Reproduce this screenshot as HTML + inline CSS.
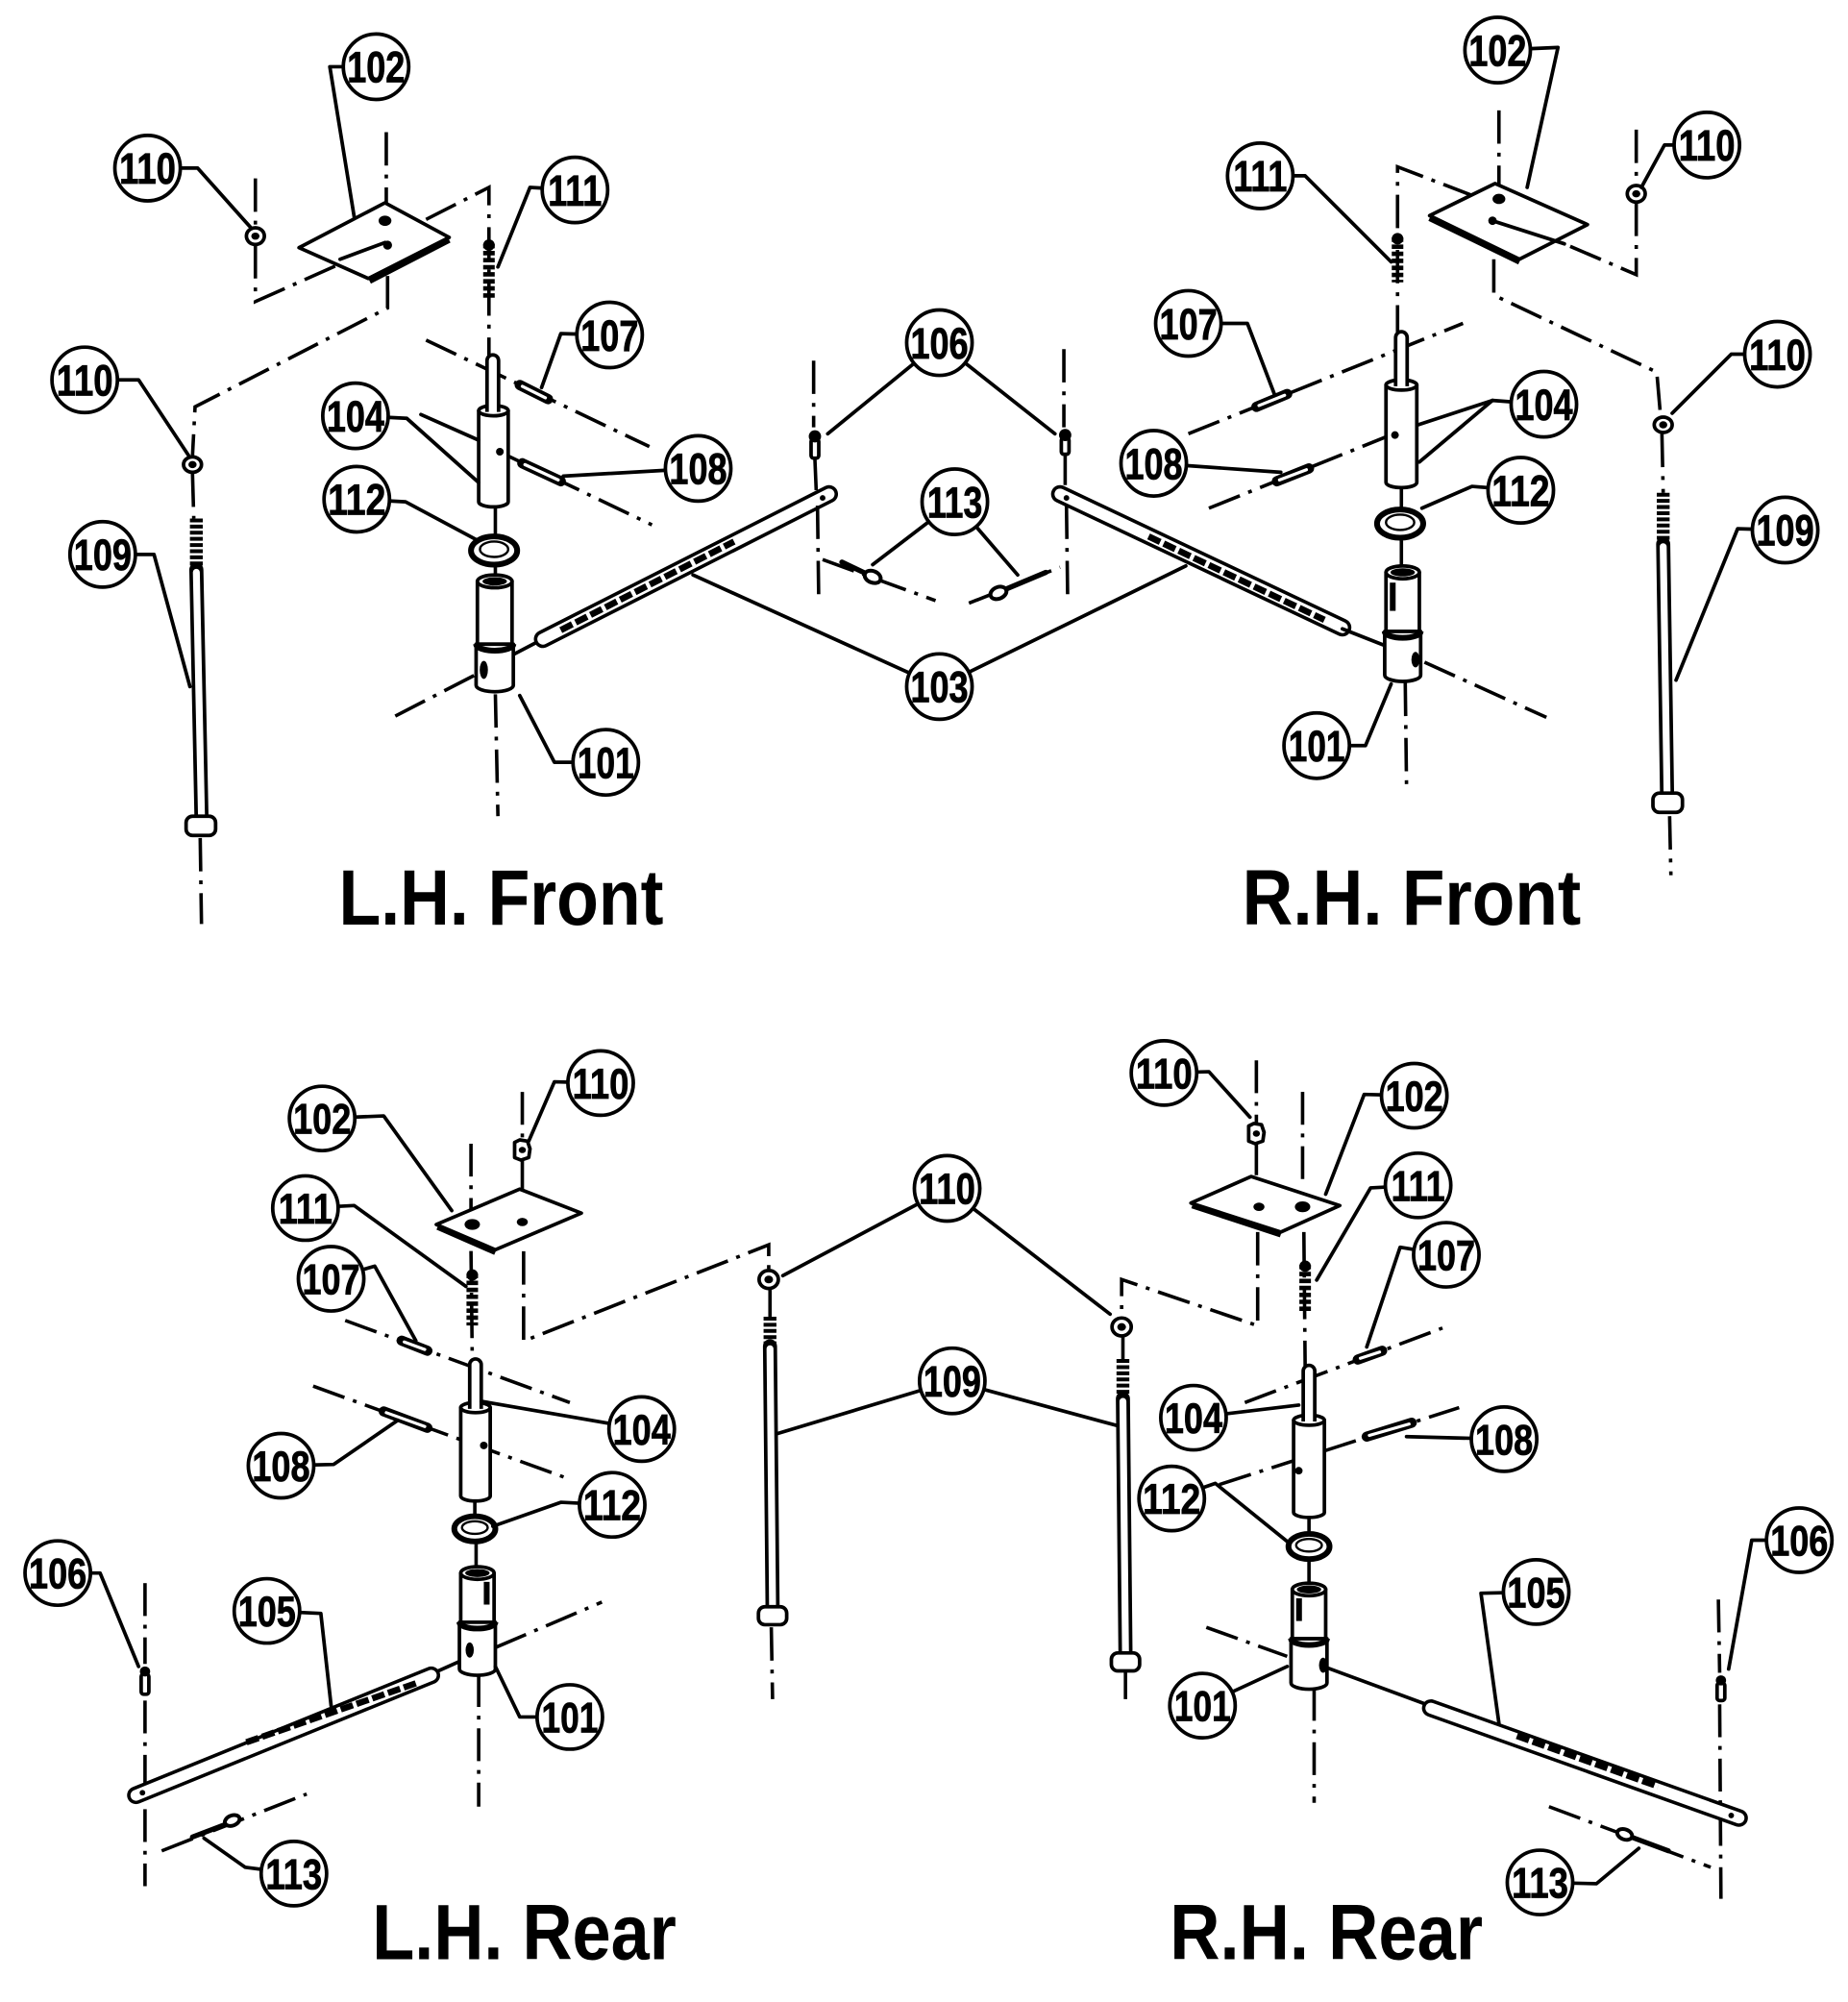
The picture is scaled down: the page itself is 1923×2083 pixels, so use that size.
<!DOCTYPE html>
<html><head><meta charset="utf-8"><title>Parts diagram</title>
<style>
html,body{margin:0;padding:0;background:#fff;overflow:hidden}
svg{display:block}
.l{fill:none;stroke:#000;stroke-width:2.8;stroke-linecap:round;stroke-linejoin:round}
.d{fill:none;stroke:#000;stroke-width:2.7;stroke-dasharray:26 7 3 7}
.p{fill:#fff;stroke:#000;stroke-width:2.8;stroke-linejoin:round}
.k{fill:#000}
.c{fill:#fff;stroke:#000;stroke-width:2.8}
.n{font-family:"Liberation Sans",Arial,sans-serif;font-weight:bold;font-size:34px;text-anchor:middle;stroke:#000;stroke-width:0.6}
.h{font-family:"Liberation Sans",Arial,sans-serif;font-weight:bold;font-size:61px}
.rb{stroke:#000;stroke-linecap:round}
.rw{stroke:#fff;stroke-linecap:round}
.sp{stroke:#000;stroke-width:9;stroke-dasharray:3.5 2}
.th{stroke:#000;stroke-width:10;stroke-dasharray:3 1.8}
.kn{stroke:#000;stroke-width:5;stroke-dasharray:10 3}
.pin{stroke:#000;stroke-width:8;stroke-linecap:round}
.pinw{stroke:#fff;stroke-width:2.4;stroke-linecap:round}
.ring{fill:none;stroke:#000;stroke-width:4.5}
.ring2{fill:none;stroke:#000;stroke-width:1.8}
.cot{stroke:#000;stroke-width:4;stroke-linecap:round}
</style></head><body>
<svg xmlns="http://www.w3.org/2000/svg" width="1923" height="2083" viewBox="0 0 1440 1560" preserveAspectRatio="none">
<rect width="1440" height="1560" fill="#fff"/>

<!-- ================= TOP LEFT ================= -->
<g class="d">
<path d="M301,103 L301,158"/>
<path d="M302,215 L302,240 L152,317 L150,355"/>
<path d="M199,139 L199,177"/>
<path d="M199,191 L199,235 L262,207"/>
<path d="M332,171 L381,146 L381,277"/>
<path d="M150,369 L151,404"/>
<path d="M156,653 L157,720"/>
<path d="M332,265 L506,348"/>
<path d="M389,352 L508,409"/>
<path d="M386,396 L386,417"/>
<path d="M386,441 L386,452"/>
<path d="M386,541 L388,636"/>
<path d="M308,558 L372,525"/>
</g>
<polygon class="p" points="233,193 300,158 350,185 287,217"/>
<line x1="288" y1="219" x2="350" y2="187" stroke="#000" stroke-width="4.5"/>
<ellipse class="k" cx="300" cy="172" rx="5" ry="4"/>
<ellipse class="k" cx="302" cy="191" rx="3.5" ry="3.5"/>
<path class="l" d="M265,202 L300,189" stroke-width="2.2"/>
<ellipse class="p" cx="199" cy="184" rx="7" ry="6.5" stroke-width="3.5"/><ellipse class="k" cx="199" cy="184" rx="3.2" ry="2.8"/>
<ellipse class="p" cx="150" cy="362" rx="7" ry="6" stroke-width="3.5"/><ellipse class="k" cx="150" cy="362" rx="3.2" ry="2.8"/>
<line class="sp" x1="381" y1="190" x2="381" y2="232"/><circle class="k" cx="381" cy="191" r="4.5"/>
<line class="th" x1="153" y1="404" x2="153" y2="444"/>
<line class="rb" x1="153" y1="444" x2="157" y2="637" stroke-width="11" stroke-linecap="butt"/>
<line class="rw" x1="153" y1="446" x2="157" y2="636" stroke-width="5.4" stroke-linecap="butt"/>
<rect class="p" x="145" y="636" width="23" height="15" rx="5" stroke-width="3"/>
<path class="p" d="M373,320 L373,391 A11.5,4 0 0 0 396,391 L396,320 Z"/>
<ellipse class="p" cx="384.5" cy="320" rx="11.5" ry="4"/>
<path class="p" d="M379.5,321 L379.5,281 A4.5,4.5 0 0 1 388.5,281 L388.5,321"/>
<circle class="k" cx="389.5" cy="352" r="3"/>
<line class="pin" x1="405" y1="300" x2="427" y2="311"/><line class="pinw" x1="407" y1="301" x2="425" y2="310"/>
<line class="pin" x1="407" y1="361" x2="437" y2="375"/><line class="pinw" x1="409" y1="362" x2="435" y2="374"/>
<ellipse class="ring" cx="385" cy="429" rx="18" ry="11"/><ellipse class="ring2" cx="385" cy="428" rx="11" ry="6"/>
<line class="l" x1="400" y1="510" x2="423" y2="498"/>
<line class="rb" x1="423" y1="498" x2="646" y2="385" stroke-width="14"/>
<line class="rw" x1="423" y1="498" x2="646" y2="385" stroke-width="8.6"/>
<line class="kn" x1="437" y1="491" x2="572" y2="422"/>
<circle class="k" cx="641" cy="388" r="2.2"/>
<rect class="p" x="372" y="453" width="27" height="49"/>
<ellipse class="p" cx="385.5" cy="453" rx="13.5" ry="5"/>
<ellipse class="k" cx="385.5" cy="453" rx="9.5" ry="3.2"/>
<path class="p" d="M371,502 L371,534 A14.5,5 0 0 0 400,534 L400,502 Z"/>
<path d="M371,502 A14.5,5 0 0 0 400,502" stroke="#000" stroke-width="4.5" fill="none"/>
<ellipse class="k" cx="377" cy="522" rx="3.2" ry="7"/>
<g class="l">
<path d="M293,52 L257,52 L276,169"/>
<path d="M115,131 L154,131 L196,178"/>
<path d="M448,148 L413,146 L388,208"/>
<path d="M475,261 L437,260 L422,302"/>
<path d="M66,296 L108,296 L147,355"/>
<path d="M277,324 L317,326 L373,376"/>
<path d="M328,323 L373,343"/>
<path d="M544,365 L439,371"/>
<path d="M278,389 L316,391 L372,421"/>
<path d="M80,432 L120,432 L148,535"/>
<path d="M472,594 L432,594 L405,542"/>
</g>

<!-- ================= CENTER TOP ================= -->
<g class="d">
<path d="M634,281 L634,333"/>
<path d="M635,358 L636,382"/>
<path d="M637,394 L638,470"/>
<path d="M829,272 L829,333"/>
<path d="M830,354 L830,378"/>
<path d="M831,394 L832,470"/>
<path d="M641,436 L729,468"/>
<path d="M755,470 L826,442"/>
</g>
<rect class="p" x="632" y="342" width="6" height="15" rx="2"/><circle class="k" cx="635" cy="340" r="4.8"/>
<rect class="p" x="827" y="341" width="6" height="13" rx="2"/><circle class="k" cx="830" cy="339" r="4.8"/>
<line class="cot" x1="656" y1="438" x2="675" y2="447"/>
<ellipse cx="680" cy="449.5" rx="6.5" ry="4.5" transform="rotate(22 680 449.5)" fill="#fff" stroke="#000" stroke-width="3"/>
<line class="cot" x1="784" y1="459" x2="815" y2="446"/>
<ellipse cx="778" cy="462" rx="6.5" ry="4.5" transform="rotate(-22 778 462)" fill="#fff" stroke="#000" stroke-width="3"/>
<g class="l">
<path d="M732,267 L645,338"/>
<path d="M732,267 L822,338"/>
<path d="M744,391 L680,440"/>
<path d="M744,391 L793,448"/>
<path d="M732,535 L540,448"/>
<path d="M732,535 L924,441"/>
</g>

<!-- ================= TOP RIGHT ================= -->
<g class="d">
<path d="M1168,86 L1168,145"/>
<path d="M1275,101 L1275,145"/>
<path d="M1275,158 L1275,214 L1219,190"/>
<path d="M1149,153 L1089,130 L1089,259"/>
<path d="M1164,202 L1164,230 L1291,290 L1294,325"/>
<path d="M1295,338 L1296,384"/>
<path d="M1301,636 L1302,682"/>
<path d="M926,338 L1140,252"/>
<path d="M942,396 L1086,338"/>
<path d="M1092,380 L1092,396"/>
<path d="M1092,421 L1092,441"/>
<path d="M1095,532 L1096,612"/>
<path d="M1110,516 L1205,559"/>
</g>
<polygon class="p" points="1114,168 1165,143 1237,175 1184,202"/>
<line x1="1114" y1="170" x2="1184" y2="204" stroke="#000" stroke-width="4.5"/>
<ellipse class="k" cx="1168" cy="155" rx="5" ry="4"/>
<ellipse class="k" cx="1163" cy="172" rx="3.3" ry="3.3"/>
<path class="l" d="M1163,172 L1219,190" stroke-width="2.2"/>
<ellipse class="p" cx="1275" cy="151" rx="7" ry="6.5" stroke-width="3.5"/><ellipse class="k" cx="1275" cy="151" rx="3.2" ry="2.8"/>
<ellipse class="p" cx="1296" cy="331" rx="7" ry="6" stroke-width="3.5"/><ellipse class="k" cx="1296" cy="331" rx="3.2" ry="2.8"/>
<line class="sp" x1="1089" y1="185" x2="1089" y2="220"/><circle class="k" cx="1089" cy="186" r="4.5"/>
<line class="th" x1="1296" y1="384" x2="1296" y2="424"/>
<line class="rb" x1="1296" y1="424" x2="1299" y2="619" stroke-width="11" stroke-linecap="butt"/>
<line class="rw" x1="1296" y1="426" x2="1299" y2="618" stroke-width="5.4" stroke-linecap="butt"/>
<rect class="p" x="1288" y="618" width="23" height="15" rx="5" stroke-width="3"/>
<path class="p" d="M1080,300 L1080,376 A12,4 0 0 0 1104,376 L1104,300 Z"/>
<ellipse class="p" cx="1092" cy="300" rx="12" ry="4"/>
<path class="p" d="M1087.5,301 L1087.5,263 A4.5,4.5 0 0 1 1096.5,263 L1096.5,301"/>
<circle class="k" cx="1087" cy="339" r="3"/>
<line class="pin" x1="979" y1="317" x2="1003" y2="307"/><line class="pinw" x1="981" y1="316" x2="1001" y2="308"/>
<line class="pin" x1="995" y1="375" x2="1020" y2="365"/><line class="pinw" x1="997" y1="374" x2="1018" y2="366"/>
<ellipse class="ring" cx="1091" cy="408" rx="18" ry="11"/><ellipse class="ring2" cx="1091" cy="407" rx="11" ry="6"/>
<line class="rb" x1="826" y1="385" x2="1046" y2="489" stroke-width="14"/>
<line class="rw" x1="826" y1="385" x2="1046" y2="489" stroke-width="8.6"/>
<line class="kn" x1="895" y1="418" x2="1032" y2="483"/>
<circle class="k" cx="831" cy="388" r="2.2"/>
<line class="l" x1="1046" y1="490" x2="1079" y2="503"/>
<rect class="p" x="1080" y="446" width="26" height="46"/>
<ellipse class="p" cx="1093" cy="446" rx="13" ry="5"/>
<ellipse class="k" cx="1093" cy="446" rx="9.5" ry="3.2"/>
<rect class="k" x="1083" y="454" width="4.5" height="22"/>
<path class="p" d="M1079,492 L1079,526 A14,5 0 0 0 1107,526 L1107,492 Z"/>
<path d="M1079,492 A14,5 0 0 0 1107,492" stroke="#000" stroke-width="4.5" fill="none"/>
<ellipse class="k" cx="1103" cy="514" rx="3.2" ry="6"/>
<g class="l">
<path d="M1167,39 L1214,37 L1190,146"/>
<path d="M1330,113 L1297,113 L1279,146"/>
<path d="M982,137 L1017,137 L1084,204"/>
<path d="M926,252 L972,252 L993,307"/>
<path d="M1385,276 L1349,276 L1303,322"/>
<path d="M1203,315 L1163,312 L1105,331"/>
<path d="M1163,312 L1106,360"/>
<path d="M899,361 L998,368"/>
<path d="M1185,382 L1147,379 L1108,396"/>
<path d="M1391,413 L1354,412 L1306,530"/>
<path d="M1026,581 L1064,581 L1084,533"/>
</g>

<!-- ================= CENTER BOTTOM ================= -->
<g class="d">
<path d="M408,975 L408,1045 L599,970 L599,990"/>
<path d="M980,960 L980,1033 L874,997 L874,1027"/>
<path d="M600,1004 L600,1026"/>
<path d="M875,1041 L875,1059"/>
<path d="M601,1268 L602,1324"/>
<path d="M877,1303 L877,1324"/>
</g>
<ellipse class="p" cx="599" cy="997" rx="7.5" ry="7" stroke-width="3.5"/><ellipse class="k" cx="599" cy="997" rx="3.4" ry="3"/>
<ellipse class="p" cx="874" cy="1034" rx="7.5" ry="7" stroke-width="3.5"/><ellipse class="k" cx="874" cy="1034" rx="3.4" ry="3"/>
<line class="th" x1="600" y1="1026" x2="600" y2="1049"/>
<line class="rb" x1="600" y1="1049" x2="602" y2="1253" stroke-width="11" stroke-linecap="butt"/>
<line class="rw" x1="600" y1="1051" x2="602" y2="1252" stroke-width="5.4" stroke-linecap="butt"/>
<rect class="p" x="591" y="1252" width="22" height="14" rx="5" stroke-width="3"/>
<line class="th" x1="875" y1="1059" x2="875" y2="1090"/>
<line class="rb" x1="875" y1="1090" x2="877" y2="1289" stroke-width="11" stroke-linecap="butt"/>
<line class="rw" x1="875" y1="1092" x2="877" y2="1288" stroke-width="5.4" stroke-linecap="butt"/>
<rect class="p" x="866" y="1288" width="22" height="14" rx="5" stroke-width="3"/>
<g class="l">
<path d="M738,926 L610,994"/>
<path d="M738,926 L865,1024"/>
<path d="M742,1076 L606,1117"/>
<path d="M742,1076 L871,1111"/>
</g>
<g>
<circle class="c" cx="738" cy="926" r="25.5"/><text class="n" x="738" y="938.2" textLength="44" lengthAdjust="spacingAndGlyphs">110</text>
<circle class="c" cx="742" cy="1076" r="25.5"/><text class="n" x="742" y="1088.2" textLength="45" lengthAdjust="spacingAndGlyphs">109</text>
</g>

<!-- ================= BOTTOM PANELS ================= -->
<g transform="matrix(1 0 0 0.984 0 12.46)">
<g class="d">
<path d="M367,893 L367,946"/>
<path d="M367,978 L368,1064"/>
<path d="M407,852 L407,890"/>
<path d="M407,906 L407,932"/>
<path d="M269,1033 L444,1098"/>
<path d="M244,1085 L442,1158"/>
<path d="M370,1175 L370,1189"/>
<path d="M371,1208 L371,1233"/>
<path d="M373,1313 L373,1418"/>
<path d="M386,1292 L469,1256"/>
<path d="M113,1241 L113,1305"/>
<path d="M113,1334 L113,1481"/>
<path d="M126,1453 L239,1408"/>
</g>
<polygon class="p" points="340,957 405,929 453,948 386,977"/>
<line x1="341" y1="959" x2="386" y2="979" stroke="#000" stroke-width="4.5"/>
<ellipse class="k" cx="368" cy="957" rx="6" ry="4.3"/>
<ellipse class="k" cx="407" cy="955" rx="4.3" ry="3.3"/>
<path class="p" d="M401,892 L405,890 L411,891 L413,897 L412,904 L406,906 L401,904 Z" stroke-width="3.4"/><ellipse class="k" cx="407" cy="898" rx="2.8" ry="2.5"/>
<line class="sp" x1="368" y1="996" x2="368" y2="1037"/><circle class="k" cx="368" cy="997" r="4.5"/>
<path class="p" d="M359,1102 L359,1172 A11.5,4 0 0 0 382,1172 L382,1102 Z"/>
<ellipse class="p" cx="370.5" cy="1102" rx="11.5" ry="4"/>
<path class="p" d="M366,1103 L366,1068 A4.5,4.5 0 0 1 375,1068 L375,1103"/>
<circle class="k" cx="377" cy="1132" r="3"/>
<line class="pin" x1="313" y1="1049" x2="333" y2="1057"/><line class="pinw" x1="315" y1="1050" x2="331" y2="1056"/>
<line class="pin" x1="299" y1="1105" x2="333" y2="1118"/><line class="pinw" x1="301" y1="1106" x2="331" y2="1117"/>
<ellipse class="ring" cx="370" cy="1198" rx="16" ry="10"/><ellipse class="ring2" cx="370" cy="1197" rx="10" ry="5"/>
<line class="l" x1="358" y1="1303" x2="336" y2="1313"/>
<line class="rb" x1="336" y1="1314" x2="106" y2="1409" stroke-width="14"/>
<line class="rw" x1="336" y1="1314" x2="106" y2="1409" stroke-width="8.6"/>
<line class="kn" x1="192" y1="1367" x2="325" y2="1320"/>
<circle class="k" cx="111" cy="1407" r="2.2"/>
<rect class="p" x="359" y="1233" width="26" height="39"/>
<ellipse class="p" cx="372" cy="1233" rx="13" ry="5"/>
<ellipse class="k" cx="372" cy="1233" rx="9.5" ry="3.2"/>
<rect class="k" x="377" y="1240" width="4.5" height="18"/>
<path class="p" d="M358,1272 L358,1309 A14,5 0 0 0 386,1309 L386,1272 Z"/>
<path d="M358,1272 A14,5 0 0 0 386,1272" stroke="#000" stroke-width="4.5" fill="none"/>
<ellipse class="k" cx="366" cy="1294" rx="3.2" ry="6"/>
<rect class="p" x="110" y="1313" width="6" height="16" rx="2"/><circle class="k" cx="113" cy="1311" r="4"/>
<line class="cot" x1="150" y1="1442" x2="176" y2="1432"/>
<ellipse cx="181" cy="1429" rx="6" ry="4" transform="rotate(-22 181 1429)" fill="#fff" stroke="#000" stroke-width="3"/>
<g class="l">
<path d="M251,873 L299,871 L352,946"/>
<path d="M468,845 L432,844 L412,891"/>
<path d="M238,944 L276,942 L363,1006"/>
<path d="M258,1000 L292,990 L324,1049"/>
<path d="M500,1119 L375,1097"/>
<path d="M219,1148 L260,1147 L310,1112"/>
<path d="M477,1179 L437,1177 L384,1196"/>
<path d="M45,1233 L78,1233 L108,1307"/>
<path d="M208,1263 L250,1265 L258,1338"/>
<path d="M444,1347 L405,1347 L386,1307"/>
<path d="M229,1471 L191,1466 L159,1443"/>
</g>

<g class="d">
<path d="M979,827 L979,878"/>
<path d="M979,892 L979,935"/>
<path d="M1015,852 L1015,925"/>
<path d="M1016,963 L1017,1069"/>
<path d="M970,1098 L1124,1039"/>
<path d="M950,1163 L1137,1102"/>
<path d="M1020,1188 L1020,1200"/>
<path d="M1020,1223 L1020,1246"/>
<path d="M1024,1324 L1024,1415"/>
<path d="M940,1276 L1003,1299"/>
<path d="M1339,1254 L1340,1312"/>
<path d="M1340,1337 L1341,1491"/>
<path d="M1207,1418 L1333,1466"/>
</g>
<polygon class="p" points="928,940 975,919 1044,942 998,963"/>
<line x1="929" y1="942" x2="998" y2="965" stroke="#000" stroke-width="4.5"/>
<ellipse class="k" cx="981" cy="943" rx="4.3" ry="3.3"/>
<ellipse class="k" cx="1015" cy="943" rx="6" ry="4.3"/>
<path class="p" d="M973,879 L977,877 L983,878 L985,884 L984,891 L978,893 L973,891 Z" stroke-width="3.4"/><ellipse class="k" cx="979" cy="885" rx="2.8" ry="2.5"/>
<line class="sp" x1="1017" y1="989" x2="1017" y2="1026"/><circle class="k" cx="1017" cy="990" r="4.5"/>
<path class="p" d="M1008,1112 L1008,1185 A12,4 0 0 0 1032,1185 L1032,1112 Z"/>
<ellipse class="p" cx="1020" cy="1112" rx="12" ry="4"/>
<path class="p" d="M1015.5,1113 L1015.5,1073 A4.5,4.5 0 0 1 1024.5,1073 L1024.5,1113"/>
<circle class="k" cx="1012" cy="1152" r="3"/>
<line class="pin" x1="1058" y1="1064" x2="1077" y2="1057"/><line class="pinw" x1="1060" y1="1063" x2="1075" y2="1058"/>
<line class="pin" x1="1065" y1="1125" x2="1100" y2="1114"/><line class="pinw" x1="1067" y1="1124" x2="1098" y2="1115"/>
<ellipse class="ring" cx="1020" cy="1212" rx="16" ry="10"/><ellipse class="ring2" cx="1020" cy="1211" rx="10" ry="5"/>
<line class="l" x1="1034" y1="1308" x2="1114" y2="1338"/>
<line class="rb" x1="1115" y1="1340" x2="1355" y2="1427" stroke-width="14"/>
<line class="rw" x1="1115" y1="1340" x2="1355" y2="1427" stroke-width="8.6"/>
<line class="kn" x1="1182" y1="1362" x2="1292" y2="1402"/>
<circle class="k" cx="1349" cy="1425" r="2.2"/>
<rect class="p" x="1007" y="1246" width="26" height="39"/>
<ellipse class="p" cx="1020" cy="1246" rx="13" ry="5"/>
<ellipse class="k" cx="1020" cy="1246" rx="9.5" ry="3.2"/>
<rect class="k" x="1010" y="1253" width="4.5" height="18"/>
<path class="p" d="M1006,1285 L1006,1320 A14,5 0 0 0 1034,1320 L1034,1285 Z"/>
<path d="M1006,1285 A14,5 0 0 0 1034,1285" stroke="#000" stroke-width="4.5" fill="none"/>
<ellipse class="k" cx="1031" cy="1306" rx="3.2" ry="6"/>
<rect class="p" x="1338" y="1320" width="6" height="14" rx="2"/><circle class="k" cx="1341" cy="1318" r="4"/>
<line class="cot" x1="1271" y1="1442" x2="1300" y2="1453"/>
<ellipse cx="1266" cy="1440" rx="6" ry="4" transform="rotate(21 1266 1440)" fill="#fff" stroke="#000" stroke-width="3"/>
<g class="l">
<path d="M907,837 L942,836 L974,872"/>
<path d="M1102,855 L1063,854 L1033,933"/>
<path d="M1105,926 L1068,928 L1026,1001"/>
<path d="M1127,981 L1091,975 L1065,1054"/>
<path d="M930,1110 L1012,1100"/>
<path d="M1172,1127 L1096,1125"/>
<path d="M913,1174 L947,1162 L1003,1208"/>
<path d="M1402,1207 L1365,1207 L1347,1309"/>
<path d="M1197,1248 L1154,1249 L1168,1352"/>
<path d="M937,1338 L1003,1307"/>
<path d="M1200,1478 L1244,1479 L1277,1451"/>
</g>

<g>
<circle class="c" cx="251" cy="873" r="25.5"/><text class="n" x="251" y="885.2" textLength="45" lengthAdjust="spacingAndGlyphs">102</text>
<circle class="c" cx="468" cy="845" r="25.5"/><text class="n" x="468" y="857.2" textLength="44" lengthAdjust="spacingAndGlyphs">110</text>
<circle class="c" cx="238" cy="944" r="25.5"/><text class="n" x="238" y="956.2" textLength="42" lengthAdjust="spacingAndGlyphs">111</text>
<circle class="c" cx="258" cy="1000" r="25.5"/><text class="n" x="258" y="1012.2" textLength="45" lengthAdjust="spacingAndGlyphs">107</text>
<circle class="c" cx="500" cy="1119" r="25.5"/><text class="n" x="500" y="1131.2" textLength="45" lengthAdjust="spacingAndGlyphs">104</text>
<circle class="c" cx="219" cy="1148" r="25.5"/><text class="n" x="219" y="1160.2" textLength="45" lengthAdjust="spacingAndGlyphs">108</text>
<circle class="c" cx="477" cy="1179" r="25.5"/><text class="n" x="477" y="1191.2" textLength="45" lengthAdjust="spacingAndGlyphs">112</text>
<circle class="c" cx="45" cy="1233" r="25.5"/><text class="n" x="45" y="1245.2" textLength="45" lengthAdjust="spacingAndGlyphs">106</text>
<circle class="c" cx="208" cy="1263" r="25.5"/><text class="n" x="208" y="1275.2" textLength="45" lengthAdjust="spacingAndGlyphs">105</text>
<circle class="c" cx="444" cy="1347" r="25.5"/><text class="n" x="444" y="1359.2" textLength="44" lengthAdjust="spacingAndGlyphs">101</text>
<circle class="c" cx="229" cy="1471" r="25.5"/><text class="n" x="229" y="1483.2" textLength="44" lengthAdjust="spacingAndGlyphs">113</text>

<circle class="c" cx="907" cy="837" r="25.5"/><text class="n" x="907" y="849.2" textLength="44" lengthAdjust="spacingAndGlyphs">110</text>
<circle class="c" cx="1102" cy="855" r="25.5"/><text class="n" x="1102" y="867.2" textLength="45" lengthAdjust="spacingAndGlyphs">102</text>
<circle class="c" cx="1105" cy="926" r="25.5"/><text class="n" x="1105" y="938.2" textLength="42" lengthAdjust="spacingAndGlyphs">111</text>
<circle class="c" cx="1127" cy="981" r="25.5"/><text class="n" x="1127" y="993.2" textLength="45" lengthAdjust="spacingAndGlyphs">107</text>
<circle class="c" cx="930" cy="1110" r="25.5"/><text class="n" x="930" y="1122.2" textLength="45" lengthAdjust="spacingAndGlyphs">104</text>
<circle class="c" cx="1172" cy="1127" r="25.5"/><text class="n" x="1172" y="1139.2" textLength="45" lengthAdjust="spacingAndGlyphs">108</text>
<circle class="c" cx="913" cy="1174" r="25.5"/><text class="n" x="913" y="1186.2" textLength="45" lengthAdjust="spacingAndGlyphs">112</text>
<circle class="c" cx="1402" cy="1207" r="25.5"/><text class="n" x="1402" y="1219.2" textLength="45" lengthAdjust="spacingAndGlyphs">106</text>
<circle class="c" cx="1197" cy="1248" r="25.5"/><text class="n" x="1197" y="1260.2" textLength="45" lengthAdjust="spacingAndGlyphs">105</text>
<circle class="c" cx="937" cy="1338" r="25.5"/><text class="n" x="937" y="1350.2" textLength="44" lengthAdjust="spacingAndGlyphs">101</text>
<circle class="c" cx="1200" cy="1478" r="25.5"/><text class="n" x="1200" y="1490.2" textLength="44" lengthAdjust="spacingAndGlyphs">113</text>
</g>
</g>

<!-- ================= TOP LABELS ================= -->
<g>
<circle class="c" cx="293" cy="52" r="25.5"/><text class="n" x="293" y="64.2" textLength="45" lengthAdjust="spacingAndGlyphs">102</text>
<circle class="c" cx="115" cy="131" r="25.5"/><text class="n" x="115" y="143.2" textLength="44" lengthAdjust="spacingAndGlyphs">110</text>
<circle class="c" cx="448" cy="148" r="25.5"/><text class="n" x="448" y="160.2" textLength="42" lengthAdjust="spacingAndGlyphs">111</text>
<circle class="c" cx="475" cy="261" r="25.5"/><text class="n" x="475" y="273.2" textLength="45" lengthAdjust="spacingAndGlyphs">107</text>
<circle class="c" cx="66" cy="296" r="25.5"/><text class="n" x="66" y="308.2" textLength="44" lengthAdjust="spacingAndGlyphs">110</text>
<circle class="c" cx="277" cy="324" r="25.5"/><text class="n" x="277" y="336.2" textLength="45" lengthAdjust="spacingAndGlyphs">104</text>
<circle class="c" cx="544" cy="365" r="25.5"/><text class="n" x="544" y="377.2" textLength="45" lengthAdjust="spacingAndGlyphs">108</text>
<circle class="c" cx="278" cy="389" r="25.5"/><text class="n" x="278" y="401.2" textLength="45" lengthAdjust="spacingAndGlyphs">112</text>
<circle class="c" cx="80" cy="432" r="25.5"/><text class="n" x="80" y="444.2" textLength="45" lengthAdjust="spacingAndGlyphs">109</text>
<circle class="c" cx="472" cy="594" r="25.5"/><text class="n" x="472" y="606.2" textLength="44" lengthAdjust="spacingAndGlyphs">101</text>

<circle class="c" cx="732" cy="267" r="25.5"/><text class="n" x="732" y="279.2" textLength="45" lengthAdjust="spacingAndGlyphs">106</text>
<circle class="c" cx="744" cy="391" r="25.5"/><text class="n" x="744" y="403.2" textLength="43" lengthAdjust="spacingAndGlyphs">113</text>
<circle class="c" cx="732" cy="535" r="25.5"/><text class="n" x="732" y="547.2" textLength="45" lengthAdjust="spacingAndGlyphs">103</text>

<circle class="c" cx="1167" cy="39" r="25.5"/><text class="n" x="1167" y="51.2" textLength="45" lengthAdjust="spacingAndGlyphs">102</text>
<circle class="c" cx="1330" cy="113" r="25.5"/><text class="n" x="1330" y="125.2" textLength="44" lengthAdjust="spacingAndGlyphs">110</text>
<circle class="c" cx="982" cy="137" r="25.5"/><text class="n" x="982" y="149.2" textLength="42" lengthAdjust="spacingAndGlyphs">111</text>
<circle class="c" cx="926" cy="252" r="25.5"/><text class="n" x="926" y="264.2" textLength="45" lengthAdjust="spacingAndGlyphs">107</text>
<circle class="c" cx="1385" cy="276" r="25.5"/><text class="n" x="1385" y="288.2" textLength="44" lengthAdjust="spacingAndGlyphs">110</text>
<circle class="c" cx="1203" cy="315" r="25.5"/><text class="n" x="1203" y="327.2" textLength="45" lengthAdjust="spacingAndGlyphs">104</text>
<circle class="c" cx="899" cy="361" r="25.5"/><text class="n" x="899" y="373.2" textLength="45" lengthAdjust="spacingAndGlyphs">108</text>
<circle class="c" cx="1185" cy="382" r="25.5"/><text class="n" x="1185" y="394.2" textLength="45" lengthAdjust="spacingAndGlyphs">112</text>
<circle class="c" cx="1391" cy="413" r="25.5"/><text class="n" x="1391" y="425.2" textLength="45" lengthAdjust="spacingAndGlyphs">109</text>
<circle class="c" cx="1026" cy="581" r="25.5"/><text class="n" x="1026" y="593.2" textLength="44" lengthAdjust="spacingAndGlyphs">101</text>
</g>

<!-- ================= TITLES ================= -->
<text class="h" x="264" y="720.5" textLength="253" lengthAdjust="spacingAndGlyphs">L.H. Front</text>
<text class="h" x="968" y="720.5" textLength="264" lengthAdjust="spacingAndGlyphs">R.H. Front</text>
<text class="h" x="290" y="1526.5" textLength="237" lengthAdjust="spacingAndGlyphs">L.H. Rear</text>
<text class="h" x="911.5" y="1526.5" textLength="244" lengthAdjust="spacingAndGlyphs">R.H. Rear</text>
</svg>
</body></html>
